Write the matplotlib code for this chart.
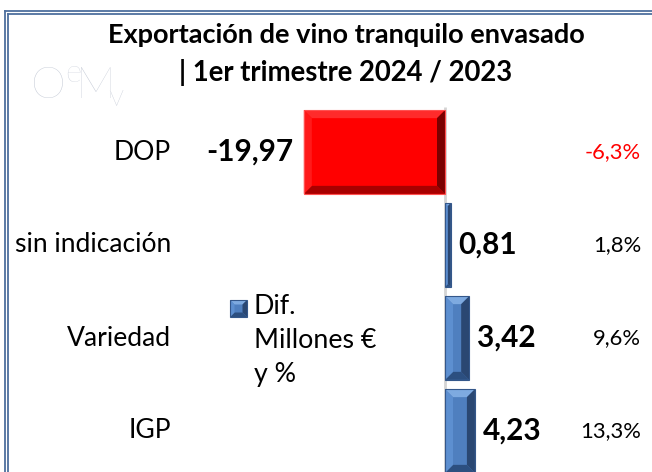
import matplotlib
matplotlib.use("Agg")
import matplotlib.pyplot as plt
import matplotlib.transforms as mtransforms
from matplotlib.lines import Line2D
from matplotlib.patches import Polygon

plt.rcParams['font.family'] = ['Lato', 'DejaVu Sans']
plt.rcParams['mathtext.fontset'] = 'custom'
plt.rcParams['mathtext.rm'] = 'Lato:light'

# ---- data ----
categories = ["DOP", "sin indicación", "Variedad", "IGP"]
diff_values = [-19.97, 0.81, 3.42, 4.23]
value_labels = ["-19,97", "0,81", "3,42", "4,23"]
pct_labels = ["-6,3%", "1,8%", "9,6%", "13,3%"]
title_line1 = "Exportación de vino tranquilo envasado"
title_line2 = "| 1er trimestre 2024 / 2023"
legend_label = "Dif.\nMillones €\ny %"

W, H = 652, 472
fig = plt.figure(figsize=(W / 100, H / 100), dpi=100)
ax = fig.add_axes([0, 0, 1, 1])
ax.set_axis_off()

zero_px, px_per_unit = 445.0, 7.07
top_px, step_px = 152.0, 93.0
ax.set_xlim((0 - zero_px) / px_per_unit, (W - zero_px) / px_per_unit)
ax.set_ylim((H - top_px) / step_px, (0 - top_px) / step_px)

ypos = list(range(len(categories)))
bar_h = 0.9

# zero line
ax.vlines(0, (107 - top_px) / step_px, (H - top_px) / step_px, color="#d4d4d4", lw=2, zorder=1)

bars = ax.barh(ypos, diff_values, height=bar_h, color="none", edgecolor="none", zorder=2)

red_cols = dict(center="#ff0000", top="#ff2b2b", bottom="#a80000", left="#ff1a1a",
                right="#7a0000", edge="#ff5050")
blue_cols = dict(center="#4f7fbf", top="#7eaae0", bottom="#2c4f80", left="#5d8fd0",
                 right="#2a4772", edge="#34578a")


def bevel_display(L, B, R, T, cols, b, inv, target):
    bb = min(b, (R - L) / 2.0, (T - B) / 2.0)
    def poly(pts, fc, ec="none", lw=0):
        d = inv.transform(pts)
        target.add_patch(Polygon(d, closed=True, facecolor=fc, edgecolor=ec, lw=lw, zorder=3))
    poly([(L, B), (R, B), (R, T), (L, T)], cols["center"])
    poly([(L, T), (R, T), (R - bb, T - bb), (L + bb, T - bb)], cols["top"])
    poly([(L, B), (R, B), (R - bb, B + bb), (L + bb, B + bb)], cols["bottom"])
    poly([(L, B), (L, T), (L + bb, T - bb), (L + bb, B + bb)], cols["left"])
    poly([(R, B), (R, T), (R - bb, T - bb), (R - bb, B + bb)], cols["right"])
    poly([(L, B), (R, B), (R, T), (L, T)], "none", cols["edge"], 0.8)


def bevel(patch, cols, b=8.0):
    x0, y0 = patch.get_x(), patch.get_y()
    x1, y1 = x0 + patch.get_width(), y0 + patch.get_height()
    (dx0, dy0), (dx1, dy1) = ax.transData.transform([(x0, y0), (x1, y1)])
    bevel_display(min(dx0, dx1), min(dy0, dy1), max(dx0, dx1), max(dy0, dy1),
                  cols, b, ax.transData.inverted(), ax)


for p, v in zip(bars, diff_values):
    bevel(p, red_cols if v < 0 else blue_cols)

# category labels
blend = mtransforms.blended_transform_factory(fig.transFigure, ax.transData)
cat_texts = []
for y, c in zip(ypos, categories):
    cat_texts.append(ax.text(171 / W, y, c, transform=blend, ha="right", va="center",
                             fontsize=16, color="black"))

# value labels
val_texts = []
for y, v, lab in zip(ypos, diff_values, value_labels):
    off = -10 if v < 0 else 8
    val_texts.append(ax.annotate(lab, xy=(v, y), xytext=(off, 0), textcoords="offset pixels",
                                 ha="right" if v < 0 else "left", va="center",
                                 fontsize=18, fontweight="bold", color="black"))

# percent labels
pct_texts = []
for y, v, lab in zip(ypos, diff_values, pct_labels):
    pct_texts.append(ax.text(641 / W, y, lab, transform=blend, ha="right", va="center",
                             fontsize=15, color="#ff0000" if v < 0 else "black"))

# title
t1 = fig.text(346 / W, 1 - 35 / H, title_line1, ha="center", va="center",
              fontsize=17, fontweight="bold")
t2 = fig.text(346 / W, 1 - 72 / H, title_line2, ha="center", va="center",
              fontsize=17, fontweight="bold")

# legend key (beveled square, in figure pixels)
bevel_display(230, H - 317, 247, H - 300, blue_cols, 4.5, ax.transData.inverted(), ax)
leg = fig.text(254 / W, 1 - 294 / H, legend_label, ha="left", va="top", fontsize=15,
               linespacing=1.45)

# logo (single text)
logo = fig.text(30 / W, 1 - 99 / H, r"O$^{\mathrm{e}}\!$M$\!_{\mathrm{v}}$",
                fontsize=32, color="#c3c9d5", fontweight="light", ha="left", va="baseline")

# fit font sizes to target widths
fig.canvas.draw()
r = fig.canvas.get_renderer()
def fit(texts, ref, target):
    w = ref.get_window_extent(r).width
    s = ref.get_fontsize() * target / w
    for t in texts:
        t.set_fontsize(s)
fit([t1], t1, 478)
fit([t2], t2, 335)
fit(cat_texts, cat_texts[1], 157)
fit(val_texts, val_texts[0], 87)
fit(pct_texts, pct_texts[3], 61)
fit([leg], leg, 122)

# frame (double line)
frame_col = "#4e6f9e"
for off in (0, 3):
    x = (4.5 + off) / W
    yt = 1 - (10.5 + off) / H
    fig.add_artist(Line2D([x, x], [0, yt], transform=fig.transFigure, color=frame_col, lw=1.3))
    fig.add_artist(Line2D([x, 1], [yt, yt], transform=fig.transFigure, color=frame_col, lw=1.3))

fig.savefig("out.png", dpi=100, facecolor="white")
